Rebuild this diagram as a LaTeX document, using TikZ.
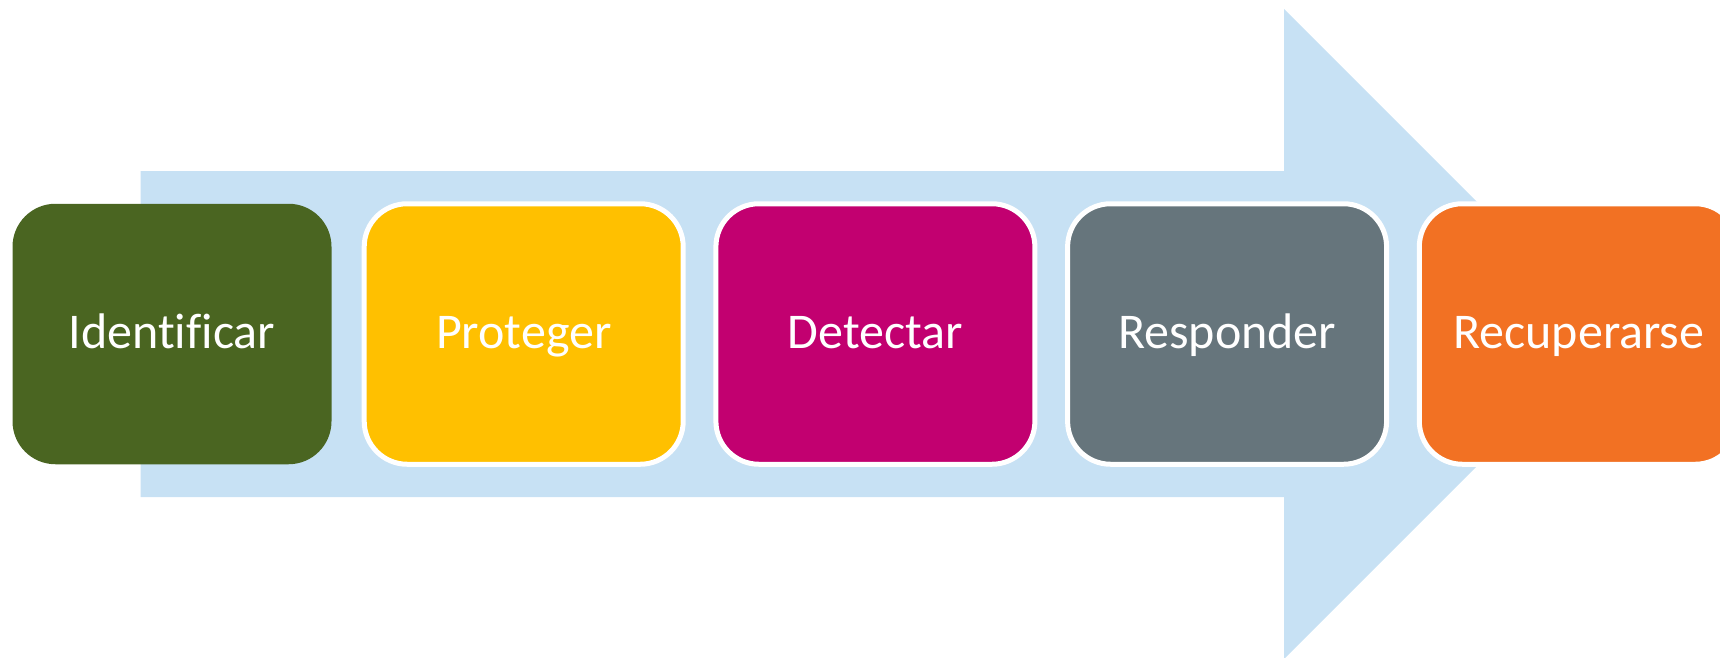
\documentclass[tikz,border=0pt]{standalone}
\usepackage{fontspec}
\setmainfont[Ligatures={NoCommon,NoRare}]{Carlito}
\definecolor{flowblue}{HTML}{C7E1F4}
\definecolor{idgreen}{HTML}{4A6521}
\definecolor{protyellow}{HTML}{FFC000}
\definecolor{detmagenta}{HTML}{C20070}
\definecolor{respgray}{HTML}{66757C}
\definecolor{recorange}{HTML}{F27123}
\begin{document}
\begin{tikzpicture}[x=1pt,y=-1pt,
  stepbox/.style={rectangle, rounded corners=43pt, minimum width=319pt,
    minimum height=260.5pt, inner sep=0pt, outer sep=0pt,
    text=white, font=\fontsize{50}{60}\selectfont,
    text height=36pt, text depth=8pt},
  ringed/.style={stepbox, draw=white, line width=5pt}]
  \useasboundingbox (0,0) rectangle (1720,657);
  \begin{scope}
    \clip (0,0) rectangle (1720,657);
    % broad background arrow
    \fill[flowblue] (140.7,171) -- (1284,171) -- (1284,9) -- (1609,334)
      -- (1284,659) -- (1284,497) -- (140.7,497) -- cycle;
    % the five stages
    \node[stepbox, fill=idgreen] (ident) at (172,334) {Identificar};
    \node[ringed, fill=protyellow] (prot) at (523.7,334) {Proteger};
    \node[ringed, fill=detmagenta] (detec) at (875.4,334) {Detectar};
    \node[ringed, fill=respgray] (resp) at (1227.1,334) {Responder};
    \node[ringed, fill=recorange] (recup) at (1578.8,334) {Recuperarse};
  \end{scope}
\end{tikzpicture}
\end{document}
